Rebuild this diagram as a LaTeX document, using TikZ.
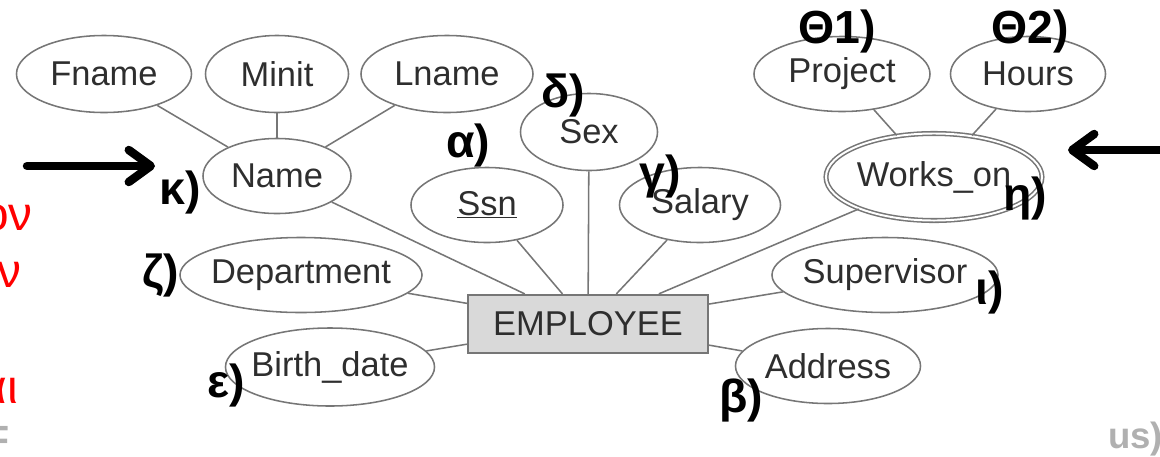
\documentclass[tikz,border=0pt]{standalone}
\usepackage{fontspec}
\setmainfont{Liberation Sans}
\usepackage{tikz}
\usetikzlibrary{arrows.meta}
\usetikzlibrary{shapes.geometric}

\definecolor{linegray}{HTML}{767676}
\definecolor{textgray}{HTML}{2E2E2E}
\definecolor{boxgray}{HTML}{D9D9D9}
\definecolor{fadegray}{HTML}{B0B0B0}
\definecolor{fragred}{HTML}{FF0000}

\newcommand{\ctr}[1]{\makebox[0pt]{#1}}

\begin{document}
\begin{tikzpicture}[x=0.025cm,y=-0.025cm,
  attr/.style={ellipse,draw=linegray,line width=1.1pt,inner sep=0pt,text=textgray,
    font=\fontsize{24.5}{28}\selectfont},
  entity/.style={rectangle,draw=linegray,fill=boxgray,line width=1.6pt,inner sep=0pt,
    minimum width=6cm,minimum height=1.45cm,text=textgray,font=\fontsize{24.5}{28}\selectfont},
  conn/.style={draw=linegray,line width=1.1pt},
  greeklab/.style={inner sep=0pt,font=\fontsize{33}{36}\selectfont\bfseries},
  redfrag/.style={inner sep=0pt,text=fragred,font=\fontsize{34}{40}\selectfont},
  grayfrag/.style={inner sep=0pt,text=fadegray,font=\fontsize{28}{32}\selectfont\bfseries},
  bigarrow/.style={line width=6pt,line cap=round,-{Straight Barb[length=0.55cm,width=0.8cm,round]}}]

  \useasboundingbox (0,0) rectangle (1160,456);

  \node[entity] (EMP) at (588,324) {EMPLOYEE};

  \node[attr,minimum width=4.375cm,minimum height=1.925cm] (Fname) at (104,74) {\ctr{Fname}};
  \node[attr,minimum width=3.575cm,minimum height=1.925cm] (Minit) at (277,74) {\ctr{Minit}};
  \node[attr,minimum width=4.3cm,minimum height=1.925cm] (Lname) at (447,74) {\ctr{Lname}};
  \node[attr,minimum width=3.7cm,minimum height=1.875cm] (Name) at (277,176) {\ctr{Name}};
  \node[attr,minimum width=3.8cm,minimum height=1.875cm] (Ssn) at (487,205) {\ctr{\underline{Ssn}}};
  \node[attr,minimum width=3.425cm,minimum height=1.925cm] (Sex) at (589,132) {\ctr{Sex}};
  \node[attr,minimum width=4.025cm,minimum height=1.875cm] (Salary) at (700,205) {\ctr{Salary}};
  \node[attr,minimum width=4.4cm,minimum height=1.875cm] (Project) at (842,74) {\ctr{Project}};
  \node[attr,minimum width=3.875cm,minimum height=1.875cm] (Hours) at (1028,74) {\ctr{Hours}};
  \node[attr,line width=1.1pt,double=white,double distance=1.4pt,
    minimum width=5.4cm,minimum height=2.175cm] (Works_on) at (934,177) {\ctr{Works\_on}};
  \node[attr,minimum width=6.05cm,minimum height=1.875cm] (Department) at (301,275) {\ctr{Department}};
  \node[attr,minimum width=5.225cm,minimum height=1.95cm] (Birth_date) at (330,367) {\ctr{Birth\_date}};
  \node[attr,minimum width=5.65cm,minimum height=1.875cm] (Supervisor) at (885,275) {\ctr{Supervisor}};
  \node[attr,minimum width=4.625cm,minimum height=1.875cm] (Address) at (828,366) {\ctr{Address}};

  \path [conn]
    (Fname)      edge (Name)
    (Minit)      edge (Name)
    (Lname)      edge (Name)
    (Project)    edge (Works_on)
    (Hours)      edge (Works_on)
    (Name)       edge (EMP)
    (Ssn)        edge (EMP)
    (Sex)        edge (EMP)
    (Salary)     edge (EMP)
    (Works_on)   edge (EMP)
    (Department) edge (EMP)
    (Birth_date) edge (EMP)
    (Supervisor) edge (EMP)
    (Address)    edge (EMP);

  \node[greeklab] (lab_kappa) at (180,192) {κ)};
  \node[greeklab] (lab_alpha) at (468,145) {α)};
  \node[greeklab] (lab_delta) at (563,95) {δ)};
  \node[greeklab] (lab_gamma) at (660,176) {γ)};
  \node[greeklab] (lab_theta_1) at (837,31) {Θ1)};
  \node[greeklab] (lab_theta_2) at (1030,31) {Θ2)};
  \node[greeklab] (lab_eta) at (1025,198) {η)};
  \node[greeklab] (lab_zeta) at (161,275) {ζ)};
  \node[greeklab] (lab_epsilon) at (226,385) {ε)};
  \node[greeklab] (lab_iota) at (990,292) {ι)};
  \node[greeklab] (lab_beta) at (741,400) {β)};

  \coordinate (arr_l_from) at (27,166);
  \coordinate (arr_l_to) at (155,166);
  \coordinate (arr_r_from) at (1175,150);
  \coordinate (arr_r_to) at (1068,150);
  \draw[bigarrow] (arr_l_from) -- (arr_l_to);
  \draw[bigarrow] (arr_r_from) -- (arr_r_to);

  \node[redfrag,anchor=base east] (frag_on) at (33,230) {ον};
  \node[redfrag,anchor=base east] (frag_n) at (22,287) {ν};
  \node[redfrag,anchor=base east] (frag_ai) at (18,403) {αι};
  \node[grayfrag,anchor=base east] (frag_F) at (10,453) {F};
  \node[grayfrag,anchor=base west,font=\fontsize{26}{30}\selectfont\bfseries] (frag_us) at (1108,448) {us)};
\end{tikzpicture}
\end{document}
